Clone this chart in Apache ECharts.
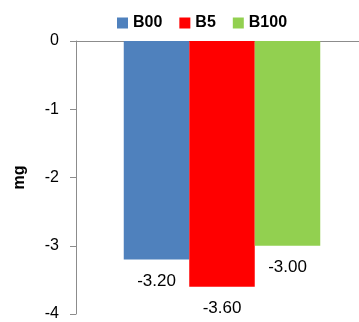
<!DOCTYPE html>
<html>
<head>
<meta charset="utf-8">
<script src="https://cdn.jsdelivr.net/npm/echarts@6/dist/echarts.min.js"></script>
<style>
  html, body { margin: 0; padding: 0; background: #ffffff; }
  #chart { width: 359px; height: 322px; }
</style>
</head>
<body>
<div id="chart"></div>
<script>
// Mass change per fuel blend (mg)
const categories = [''];
const seriesNames = ['B00', 'B5', 'B100'];
const seriesColors = ['#4f81bd', '#ff0000', '#92d050'];
const valuesB00 = [-3.20];
const valuesB5 = [-3.60];
const valuesB100 = [-3.00];
const yTicks = { min: -4, max: 0, interval: 1 };

const seriesValues = [valuesB00, valuesB5, valuesB100];
const fontFamily = '"Liberation Sans", Arial, sans-serif';
const axisGray = '#8c8c8c';

const chart = echarts.init(document.getElementById('chart'), null, { renderer: 'canvas' });

chart.setOption({
  animation: false,
  backgroundColor: '#ffffff',
  legend: {
    left: 112,
    top: 10,
    itemWidth: 11,
    itemHeight: 11,
    itemGap: 17,
    icon: 'rect',
    textStyle: { fontFamily: fontFamily, fontSize: 16, fontWeight: 'bold', color: '#000', padding: [0, 0, 0, 0] },
    data: seriesNames
  },
  // the plot runs a little past the right edge of the canvas
  grid: { left: 76, right: -9, top: 41, bottom: 8, outerBoundsMode: 'none' },
  xAxis: {
    type: 'category',
    position: 'top',
    data: categories,
    axisLine: { show: true, lineStyle: { color: axisGray, width: 1 } },
    axisTick: { show: false },
    axisLabel: { show: false },
    splitLine: { show: false }
  },
  yAxis: {
    type: 'value',
    min: yTicks.min,
    max: yTicks.max,
    interval: yTicks.interval,
    name: 'mg',
    nameLocation: 'middle',
    nameGap: 48,
    nameRotate: 90,
    nameTextStyle: { fontFamily: fontFamily, fontSize: 16, fontWeight: 'bold', color: '#000' },
    axisLine: { show: true, lineStyle: { color: axisGray, width: 1 } },
    axisTick: { show: true, length: 6, inside: false, lineStyle: { color: axisGray } },
    axisLabel: { fontFamily: fontFamily, fontSize: 16, color: '#000', margin: 17 },
    splitLine: { show: false }
  },
  series: seriesNames.map((name, i) => ({
    name: name,
    type: 'bar',
    data: seriesValues[i],
    barWidth: 65.5,
    barGap: '0%',
    itemStyle: { color: seriesColors[i] },
    label: {
      show: true,
      position: 'bottom',
      distance: 13,
      fontFamily: fontFamily,
      fontSize: 17,
      color: '#000',
      formatter: p => p.value.toFixed(2)
    }
  }))
});
</script>
</body>
</html>
